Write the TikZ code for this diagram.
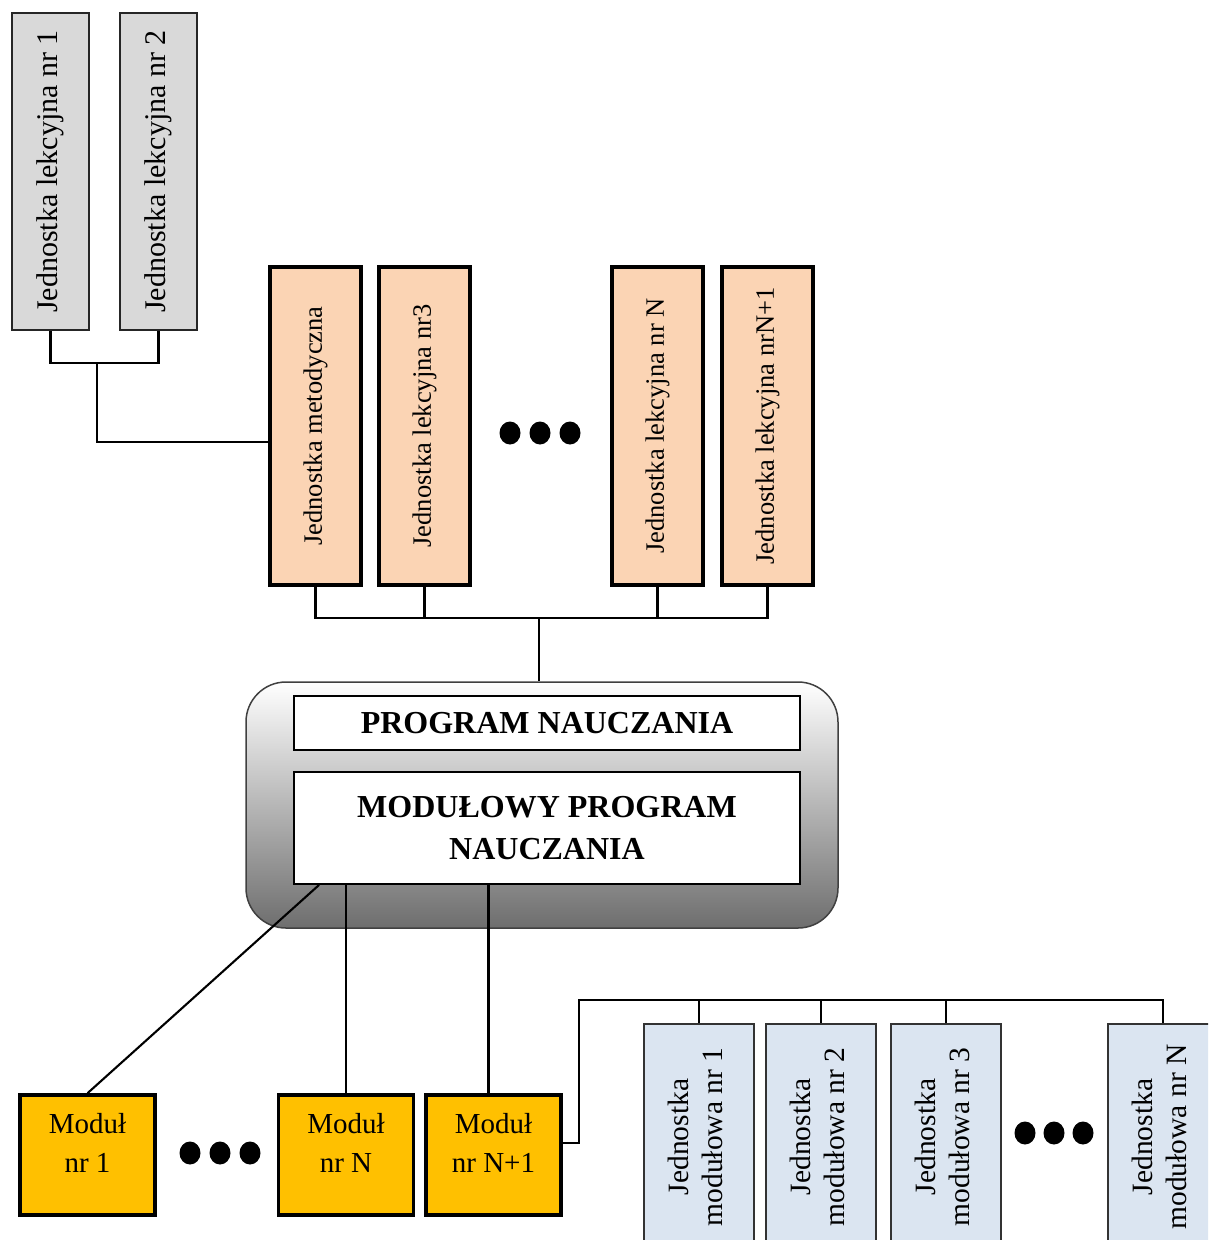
\documentclass[tikz,border=0pt]{standalone}
\usepackage{fontspec}
\setmainfont{Liberation Serif}
\usetikzlibrary{calc}
\definecolor{greyfill}{HTML}{D9D9D9}
\definecolor{orangefill}{HTML}{FBD4B4}
\definecolor{modfill}{HTML}{FFC000}
\definecolor{bluefill}{HTML}{DBE5F1}
\tikzset{
  conn/.style={draw=black, line width=2.1pt},
  greybox/.style={draw=black!85, line width=2pt, fill=greyfill, minimum width=77pt, minimum height=317pt, inner sep=0pt, font=\fontsize{30}{34}\selectfont},
  orangebox/.style={draw=black, line width=3.2pt, fill=orangefill, minimum width=91pt, minimum height=318pt, inner sep=0pt, font=\fontsize{26.5}{32}\selectfont},
  progbox/.style={draw=black, line width=1.8pt, fill=white, minimum width=506pt, inner sep=0pt, font=\fontsize{32}{42}\selectfont\bfseries, align=center},
  modbox/.style={draw=black, line width=3.6pt, fill=modfill, minimum width=135pt, minimum height=120pt, inner sep=0pt, font=\fontsize{29}{39}\selectfont},
  bluebox/.style={draw=black!80, line width=1.8pt, fill=bluefill, minimum width=110pt, minimum height=226pt, inner sep=0pt, font=\fontsize{29.5}{34}\selectfont},
  outerbox/.style={draw=black!75, line width=1.5pt, rounded corners=40pt, top color=white, bottom color=black!57, minimum width=592pt, minimum height=246pt, inner sep=0pt},
}
\begin{document}
\begin{tikzpicture}[x=1pt,y=-1pt]
\useasboundingbox (0,0) rectangle (1208,1240);
\clip (0,0) rectangle (1208,1240);
% top grey boxes
\node[greybox] (g1) at (50.5,171.5) {\rotatebox{90}{Jednostka lekcyjna nr 1}};
\node[greybox] (g2) at (158.5,171.5) {\rotatebox{90}{Jednostka lekcyjna nr 2}};
% orange boxes
\node[orangebox] (o1) at (315.5,426) {\rotatebox{90}{Jednostka metodyczna}};
\node[orangebox] (o2) at (424.5,426) {\rotatebox{90}{Jednostka lekcyjna nr3}};
\node[orangebox] (o3) at (657.5,426) {\rotatebox{90}{Jednostka lekcyjna nr N}};
\node[orangebox] (o4) at (767.5,426) {\rotatebox{90}{Jednostka lekcyjna nrN+1}};
\foreach \x in {510,540,570} \fill (\x,433) ellipse (10.5pt and 11.5pt);
% outer program box
\node[outerbox] (prog) at (542,805) {};
\node[progbox, minimum height=54pt] (p1) at (547,723) {PROGRAM NAUCZANIA};
\node[progbox, minimum height=112pt] (p2) at (547,828) {MODUŁOWY PROGRAM\\NAUCZANIA};
% modules
\node[modbox] (m1) at (87.5,1155) {\raisebox{10pt}[\height][\depth]{\begin{tabular}{@{}c@{}}Moduł\\nr 1\end{tabular}}};
\node[modbox] (m2) at (346,1155) {\raisebox{10pt}[\height][\depth]{\begin{tabular}{@{}c@{}}Moduł\\nr N\end{tabular}}};
\node[modbox] (m3) at (493.5,1155) {\raisebox{10pt}[\height][\depth]{\begin{tabular}{@{}c@{}}Moduł\\nr N+1\end{tabular}}};
\foreach \x in {190,220,250} \fill (\x,1153) ellipse (10.5pt and 11.5pt);
% blue boxes
\node[bluebox] (b1) at (699,1137) {\rotatebox{90}{\begin{tabular}{@{}c@{}}Jednostka\\modułowa nr 1\end{tabular}}};
\node[bluebox] (b2) at (821,1137) {\rotatebox{90}{\begin{tabular}{@{}c@{}}Jednostka\\modułowa nr 2\end{tabular}}};
\node[bluebox] (b3) at (946,1137) {\rotatebox{90}{\begin{tabular}{@{}c@{}}Jednostka\\modułowa nr 3\end{tabular}}};
\node[bluebox] (b4) at (1163,1137) {\rotatebox{90}{\begin{tabular}{@{}c@{}}Jednostka\\modułowa nr N\end{tabular}}};
\foreach \x in {1025,1054,1083} \fill (\x,1133) ellipse (10.5pt and 11.5pt);
% connectors
\coordinate (gj) at (97,363);
\draw[conn] (g1.south) |- (gj) -| (g2.south);
\draw[conn] (gj) |- ([yshift=-16pt]o1.west);
\coordinate (ob) at (539,618);
\draw[conn] (o1.south) |- (ob) -| (o4.south);
\draw[conn] (o2.south) -- (o2.south |- ob);
\draw[conn] (o3.south) -- (o3.south |- ob);
\draw[conn] (ob) -- (ob |- prog.north);
\draw[conn] ([xshift=26pt]p2.south west) -- (m1.north);
\draw[conn] (m2.north) -- (m2.north |- p2.south);
\draw[conn] ([xshift=-5pt]m3.north) -- ([xshift=-5pt]m3.north |- p2.south);
\coordinate (bj) at (579,1000);
\draw[conn] ([yshift=12pt]m3.east) -| (bj) -| (b4.north);
\draw[conn] (b1.north) -- (b1.north |- bj);
\draw[conn] (b2.north) -- (b2.north |- bj);
\draw[conn] (b3.north) -- (b3.north |- bj);
\end{tikzpicture}
\end{document}
